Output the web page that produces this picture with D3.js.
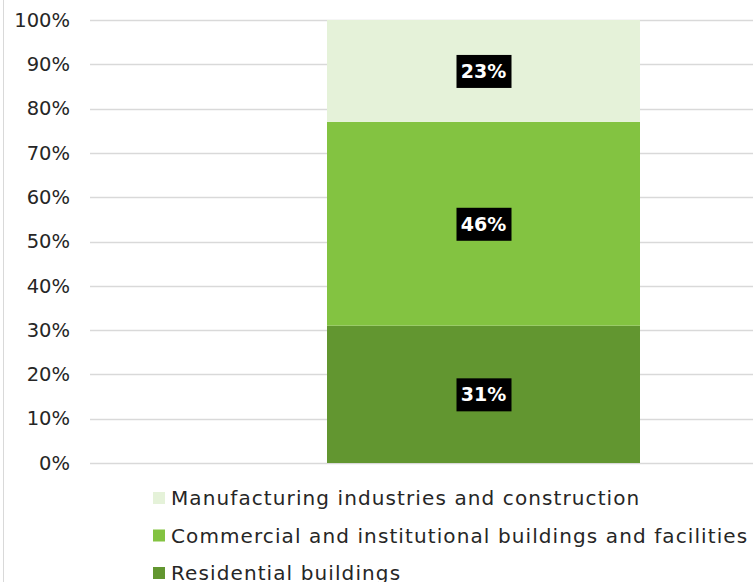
<!DOCTYPE html>
<html>
<head>
<meta charset="utf-8">
<script src="https://cdn.jsdelivr.net/npm/d3@7"></script>
<style>
  body { margin: 0; background: #fff; }
  svg { display: block; font-family: "DejaVu Sans", sans-serif; }
</style>
</head>
<body>
<svg id="chart" width="753" height="582"></svg>
<script>
// series, bottom to top
var series = ['Residential buildings', 'Commercial and institutional buildings and facilities', 'Manufacturing industries and construction'];
var values = [31, 46, 23];
var colors = ['#629630', '#83c341', '#e5f2d9'];
var ticks = [0, 10, 20, 30, 40, 50, 60, 70, 80, 90, 100];

var svg = d3.select('#chart');

// outer frame line on the left
svg.append('line')
	.attr('x1', 3.5).attr('x2', 3.5)
	.attr('y1', 0).attr('y2', 582)
	.attr('stroke', '#d9d9d9');

var y = d3.scaleLinear().domain([0, 100]).range([463, 20]);

// gridlines
svg.append('g')
	.selectAll('line')
	.data(ticks)
	.enter().append('line')
	.attr('x1', 90).attr('x2', 753)
	.attr('y1', function(d) { return Math.round(y(d)) + 0.5; })
	.attr('y2', function(d) { return Math.round(y(d)) + 0.5; })
	.attr('stroke', '#d9d9d9')
	.attr('stroke-width', 1.5);

// y axis labels
var yAxis = d3.axisLeft(y)
	.tickValues(ticks)
	.tickSize(0)
	.tickPadding(0)
	.tickFormat(function(d) { return d + '%'; });

var gy = svg.append('g')
	.attr('transform', 'translate(70,0)')
	.call(yAxis);
gy.select('.domain').remove();
gy.selectAll('text')
	.style('font-size', '19.5px')
	.style('font-family', '"DejaVu Sans", sans-serif')
	.attr('fill', '#262626');

// stacked bar
var stacked = [];
var acc = 0;
values.forEach(function(v, i) {
	stacked.push({ name: series[i], v: v, y0: acc, y1: acc + v, color: colors[i] });
	acc += v;
});

var barX = 327, barW = 313;

svg.append('g')
	.selectAll('rect')
	.data(stacked)
	.enter().append('rect')
	.attr('x', barX)
	.attr('width', barW)
	.attr('y', function(d) { return y(d.y1); })
	.attr('height', function(d) { return y(d.y0) - y(d.y1); })
	.attr('fill', function(d) { return d.color; });

// data labels
var labels = svg.append('g')
	.selectAll('g')
	.data(stacked)
	.enter().append('g')
	.attr('transform', function(d) {
		return 'translate(' + (barX + barW / 2) + ',' + ((y(d.y0) + y(d.y1)) / 2) + ')';
	});

labels.append('rect')
	.attr('x', -27).attr('y', -16)
	.attr('width', 55).attr('height', 33)
	.attr('fill', '#000');

labels.append('text')
	.attr('text-anchor', 'middle')
	.attr('dy', '0.36em')
	.attr('fill', '#fff')
	.style('font-size', '19px')
	.style('font-weight', 'bold')
	.text(function(d) { return d.v + '%'; });

// legend, top to bottom
var legendData = stacked.slice().reverse();
var legend = svg.append('g')
	.selectAll('g')
	.data(legendData)
	.enter().append('g')
	.attr('transform', function(d, i) { return 'translate(153,' + (498 + i * 37.5) + ')'; });

legend.append('rect')
	.attr('x', 0).attr('y', -6)
	.attr('width', 12).attr('height', 12)
	.attr('fill', function(d) { return d.color; });

legend.append('text')
	.attr('x', 18)
	.attr('dy', '0.36em')
	.attr('fill', '#262626')
	.style('font-size', '20px')
	.style('letter-spacing', '1.1px')
	.text(function(d) { return d.name; });
</script>
</body>
</html>
